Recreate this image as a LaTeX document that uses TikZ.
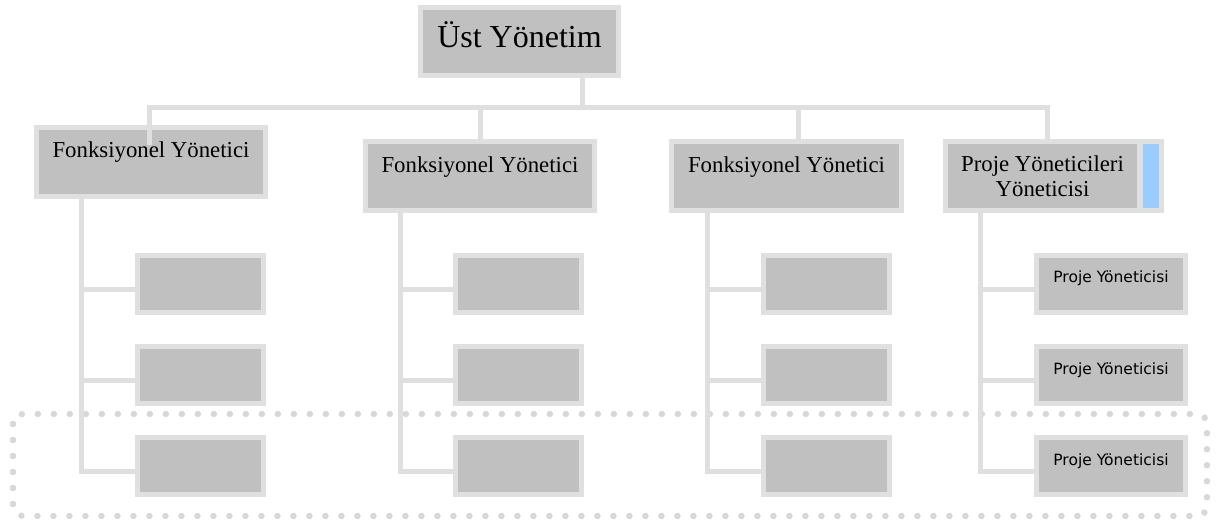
\documentclass[tikz,border=0pt]{standalone}
\usepackage{fontspec}
\setmainfont{Liberation Serif}
\newfontfamily\uisans{DejaVu Sans}
\begin{document}
\definecolor{boxfill}{HTML}{C0C0C0}
\definecolor{boxedge}{HTML}{E0E0E0}
\definecolor{linkgray}{HTML}{DFDFDF}
\definecolor{dotgray}{HTML}{D8D8D8}
\definecolor{accent}{HTML}{99CCFF}
\begin{tikzpicture}[x=1pt,y=-1pt,
  box/.style={draw=boxedge, fill=boxfill, line width=5pt, inner sep=0pt},
  topbox/.style={box, minimum width=198pt, minimum height=68pt,
    font=\fontsize{32}{38}\selectfont, text height=20pt, text depth=9pt},
  mgrbox/.style={box, minimum height=69pt,
    font=\fontsize{22.8}{25}\selectfont, text height=15pt, text depth=23pt},
  pmbox/.style={box, minimum width=194pt, minimum height=69pt, align=center,
    font=\fontsize{22.8}{25}\selectfont},
  tagbox/.style={box, fill=accent, minimum width=21pt, minimum height=69pt},
  subbox/.style={box, minimum width=126pt, minimum height=57pt},
  projbox/.style={box, minimum width=149pt, minimum height=57pt,
    font=\uisans\fontsize{15.5}{18}\selectfont, text height=10pt, text depth=12pt},
  conn/.style={draw=linkgray, line width=5pt, line cap=rect, line join=miter},
  dotframe/.style={draw=dotgray, line width=6.5pt, line cap=round,
    dash pattern=on 0pt off 16pt, rounded corners=10pt}
]
\useasboundingbox (0,0) rectangle (1224,525);

% dotted frame around the bottom row
\draw[dotframe] (13,414) rectangle (1207,516);

% top level
\node[topbox] (top) at (519.5,41.5) {Üst Yönetim};

% managers
\node[mgrbox, minimum width=229pt] (f1) at (151,161.5) {Fonksiyonel Yönetici};
\node[mgrbox, minimum width=229pt] (f2) at (480,176) {Fonksiyonel Yönetici};
\node[mgrbox, minimum width=230pt] (f3) at (786.5,176) {Fonksiyonel Yönetici};
\node[pmbox] (f4) at (1042.5,176) {Proje Yöneticileri\\Yöneticisi};
\node[tagbox] (f4tag) at (1151,176) {};

% sub units
\foreach \c/\x in {1/200.5, 2/518.5, 3/826.5}{
  \node[subbox] (c\c1) at (\x,283.5) {};
  \node[subbox] (c\c2) at (\x,375) {};
  \node[subbox] (c\c3) at (\x,466) {};
}
\node[projbox] (c41) at (1111,283.5) {Proje Yöneticisi};
\node[projbox] (c42) at (1111,375) {Proje Yöneticisi};
\node[projbox] (c43) at (1111,466) {Proje Yöneticisi};

% bus from the top box to the managers
\coordinate (hub) at (582,107.5);
\coordinate (d1) at (149.5,107.5);
\coordinate (d2) at (480,107.5);
\coordinate (d3) at (798,107.5);
\coordinate (d4) at (1047.5,107.5);
\coordinate (d1end) at (149.5,142);
\draw[conn] (top.south -| hub) -- (hub);
\draw[conn] (d1) -- (d4);
\draw[conn] (d1) -- (d1end);
\draw[conn] (d2) -- (d2 |- f2.north);
\draw[conn] (d3) -- (d3 |- f3.north);
\draw[conn] (d4) -- (d4 |- f4.north);

% trunks to the sub units
\coordinate (x1) at (81,0);
\coordinate (x2) at (400,0);
\coordinate (x3) at (707,0);
\coordinate (x4) at (980,0);
\foreach \c in {1,2,3,4}{
  \draw[conn] (f\c.south -| x\c) |- ([yshift=-5.5pt]c\c3.west);
  \draw[conn] ([yshift=-5.5pt]c\c1.west) -- ([yshift=-5.5pt]c\c1.west -| x\c);
  \draw[conn] ([yshift=-5.5pt]c\c2.west) -- ([yshift=-5.5pt]c\c2.west -| x\c);
}
\end{tikzpicture}
\end{document}
